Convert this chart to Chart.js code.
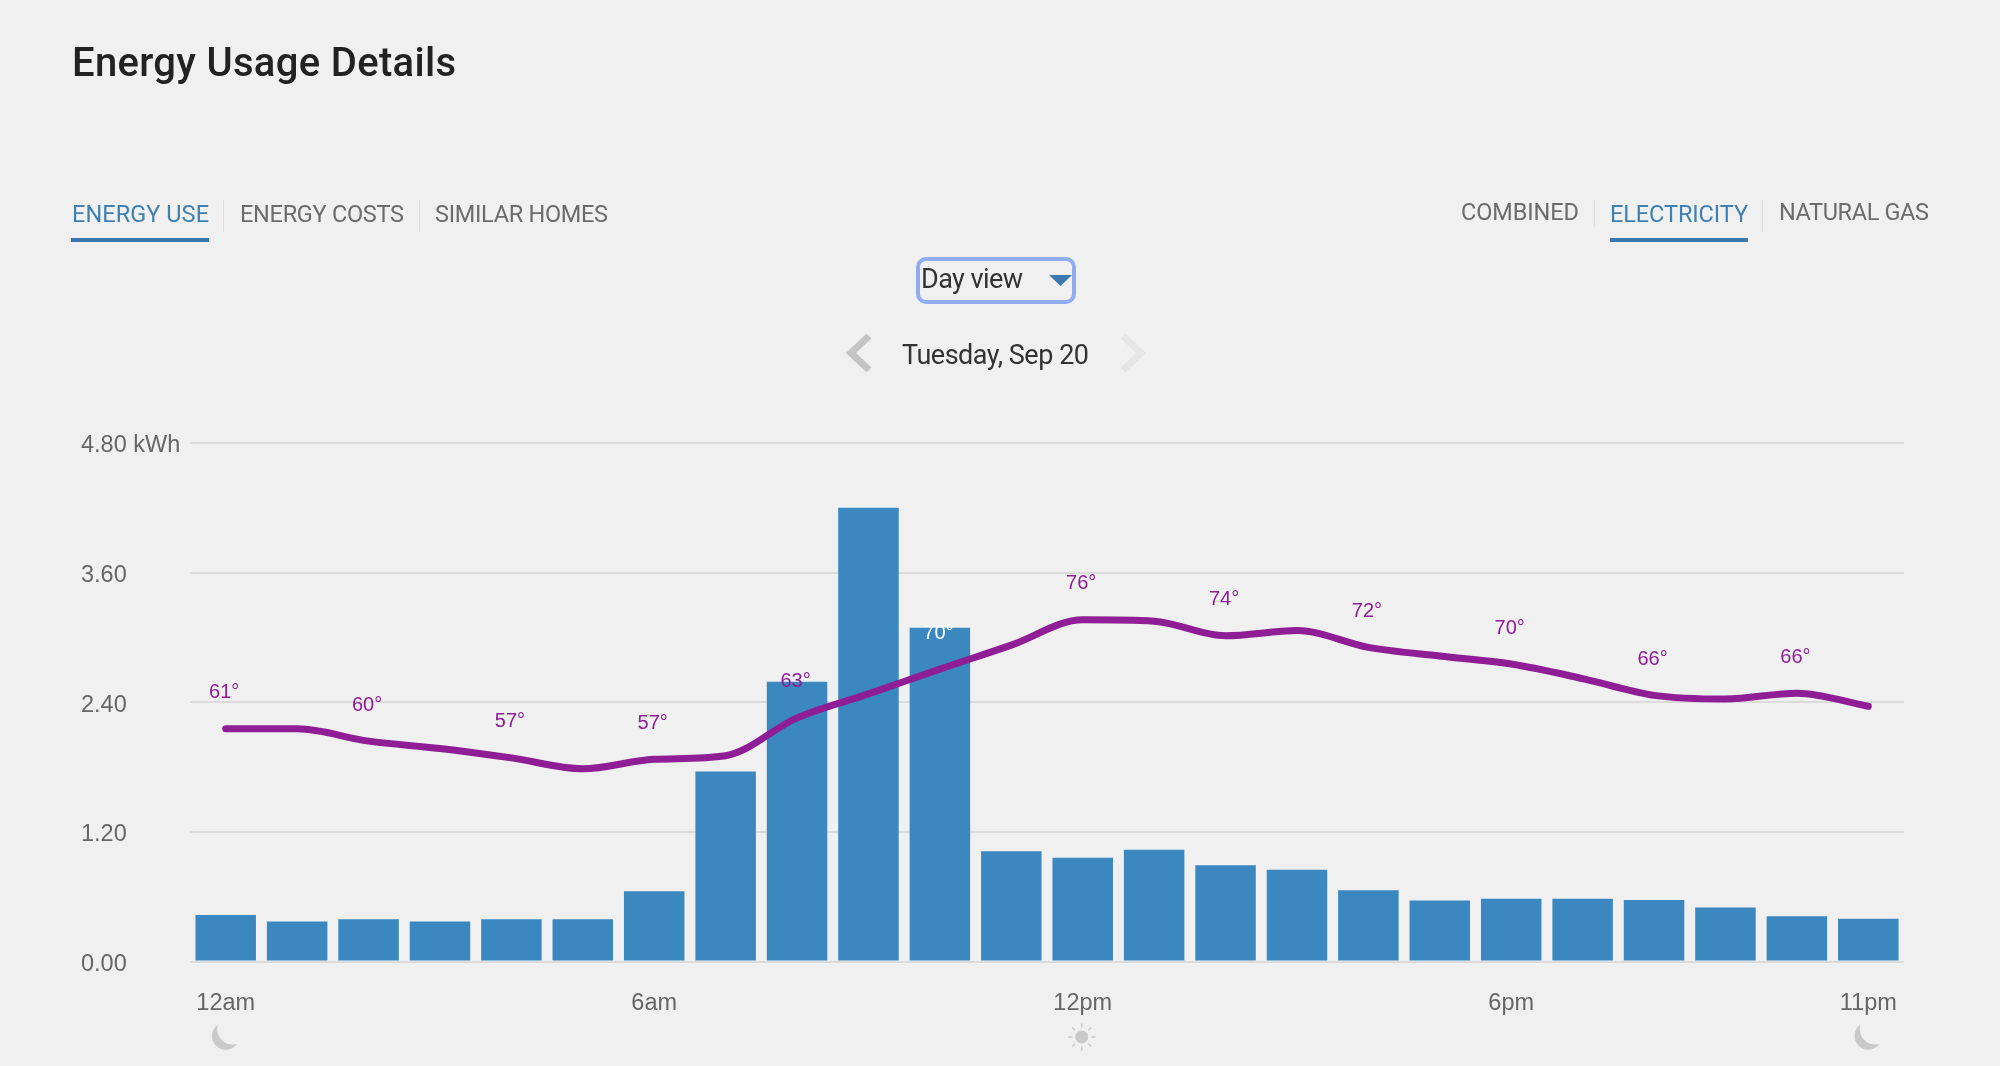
<!DOCTYPE html>
<html>
<head>
<meta charset="utf-8">
<title>Energy Usage Details</title>
<script src="https://cdn.jsdelivr.net/npm/chart.js@4"></script>
<style>
html,body{margin:0;padding:0;width:2000px;height:1066px;overflow:hidden;background:#f0f0f0;}
#c{position:absolute;left:0;top:0;}
.t{position:absolute;white-space:nowrap;line-height:1;font-family:Roboto,sans-serif;}
.tab{font-size:23.5px;color:#6b6b6b;}
.on{color:#3f80b3;}
.sep{position:absolute;width:1px;background:#dedede;}
.ul{position:absolute;height:4px;background:#3b78ad;}
#sel{position:absolute;left:916px;top:257px;width:152px;height:39px;border:4px solid #90adf0;border-radius:10px;}
</style>
</head>
<body>
<canvas id="c" width="2000" height="1066"></canvas>

<div class="t" data-w="384" style="left:72px;top:43px;font-size:40px;color:#222;font-weight:500;">Energy Usage Details</div>

<div class="t tab on" data-w="137" style="left:72px;top:203px;">ENERGY USE</div>
<div class="ul" style="left:71px;top:238px;width:138px;"></div>
<div class="sep" style="left:223px;top:200px;height:32px;"></div>
<div class="t tab" data-w="164" style="left:240px;top:203px;">ENERGY COSTS</div>
<div class="sep" style="left:419px;top:200px;height:32px;"></div>
<div class="t tab" data-w="173" style="left:435px;top:203px;">SIMILAR HOMES</div>

<div class="t tab" data-w="118" style="left:1461px;top:201px;">COMBINED</div>
<div class="sep" style="left:1594px;top:200px;height:27px;"></div>
<div class="t tab on" data-w="138" style="left:1610px;top:203px;">ELECTRICITY</div>
<div class="ul" style="left:1610px;top:238px;width:138px;"></div>
<div class="sep" style="left:1762px;top:200px;height:32px;"></div>
<div class="t tab" data-w="150" style="left:1779px;top:201px;">NATURAL GAS</div>

<div id="sel"></div>
<div class="t" data-w="102" style="left:921px;top:266px;font-size:27px;color:#333;">Day view</div>
<svg style="position:absolute;left:1045px;top:270px;" width="32" height="22"><polygon points="4,5 27,5 15.5,16" fill="#3b78ad"/></svg>

<svg style="position:absolute;left:840px;top:330px;" width="36" height="46"><polyline points="29,6 11,23 29,40" fill="none" stroke="#c4c4c4" stroke-width="7"/></svg>
<div class="t" data-w="187" style="left:902px;top:342px;font-size:27px;color:#333;">Tuesday, Sep 20</div>
<svg style="position:absolute;left:1116px;top:330px;" width="36" height="46"><polyline points="7,6 25,23 7,40" fill="none" stroke="#e6e6e6" stroke-width="7"/></svg>

<script>
const hours = ["12am","1am","2am","3am","4am","5am","6am","7am","8am","9am","10am","11am",
               "12pm","1pm","2pm","3pm","4pm","5pm","6pm","7pm","8pm","9pm","10pm","11pm"];
const shownHours = ["12am","6am","12pm","6pm","11pm"];
const usageKwh = [0.43,0.37,0.39,0.37,0.39,0.39,0.65,1.76,2.59,4.20,3.09,1.02,
                  0.96,1.035,0.89,0.85,0.66,0.565,0.58,0.58,0.57,0.50,0.42,0.395];
const temperatureF = [61.0,61.0,59.3,58.3,57.0,55.5,56.8,57.3,62.5,65.8,69.2,72.5,
                      76.0,75.8,73.8,74.5,72.2,71.0,69.9,67.9,65.6,65.1,65.9,64.1];
const tempHours = ["12am","2am","4am","6am","8am","10am","12pm","2pm","4pm","6pm","8pm","10pm"];
const tempLabels = ["61°","60°","57°","57°","63°","70°","76°","74°","72°","70°","66°","66°"];
const yTicks = [0,1.2,2.4,3.6,4.8];
const moonHours = ["12am","11pm"];
const sunHours = ["12pm"];

document.querySelectorAll('.t[data-w]').forEach(el=>{
  const w = el.getBoundingClientRect().width;
  const n = el.textContent.length;
  el.style.letterSpacing = ((+el.dataset.w - w)/(n-1)) + 'px';
});

const BG = '#f0f0f0', ICON = '#c9c9c9', PURPLE = '#8e1d96';

const overlay = {
  id:'overlay',
  afterDatasetsDraw(chart){
    const ctx = chart.ctx, x = chart.scales.x, meta = chart.getDatasetMeta(1);
    ctx.save();
    ctx.font = '20px "Liberation Sans"';
    ctx.textAlign = 'center';
    ctx.textBaseline = 'middle';
    tempHours.forEach((h,i)=>{
      const idx = hours.indexOf(h);
      const pt = meta.data[idx];
      ctx.fillStyle = h === '10am' ? '#ffffff' : PURPLE;
      ctx.fillText(tempLabels[i], pt.x-1.5, pt.y-36);
    });
    ctx.restore();
    const iy = 1036;
    ctx.save();
    moonHours.forEach(h=>{
      const cx = x.getPixelForValue(hours.indexOf(h));
      ctx.fillStyle = ICON;
      ctx.beginPath(); ctx.arc(cx,iy,13.7,0,Math.PI*2); ctx.fill();
      ctx.fillStyle = BG;
      ctx.beginPath(); ctx.arc(cx+7,iy-7,15.5,0,Math.PI*2); ctx.fill();
    });
    sunHours.forEach(h=>{
      const cx = x.getPixelForValue(hours.indexOf(h))-1;
      const sy = 1037;
      ctx.fillStyle = ICON;
      ctx.beginPath(); ctx.arc(cx,sy,6.5,0,Math.PI*2); ctx.fill();
      ctx.strokeStyle = ICON; ctx.lineWidth = 1.5;
      for(let a=0;a<8;a++){
        const r = a*Math.PI/4;
        ctx.beginPath();
        ctx.moveTo(cx+Math.cos(r)*9.5,sy+Math.sin(r)*9.5);
        ctx.lineTo(cx+Math.cos(r)*13.5,sy+Math.sin(r)*13.5);
        ctx.stroke();
      }
    });
    ctx.restore();
  }
};

new Chart(document.getElementById('c'),{
  type:'bar',
  data:{
    labels:hours,
    datasets:[
      {type:'bar',label:'Electricity (kWh)',data:usageKwh,backgroundColor:'#3b88c1',borderWidth:0,
       categoryPercentage:1,barPercentage:0.847,yAxisID:'y',order:2},
      {type:'line',label:'Temperature',data:temperatureF,borderColor:PURPLE,borderWidth:7,
       pointRadius:0,fill:false,cubicInterpolationMode:'monotone',borderCapStyle:'round',
       borderJoinStyle:'round',yAxisID:'y1',order:1}
    ]
  },
  plugins:[overlay],
  options:{
    responsive:false,
    animation:false,
    layout:{padding:{left:81,top:443,right:96,bottom:44.5}},
    plugins:{legend:{display:false},tooltip:{enabled:false},title:{display:false}},
    scales:{
      x:{
        offset:true,
        grid:{display:false},
        border:{display:false},
        afterFit(s){s.height=60;},
        ticks:{
          autoSkip:false,maxRotation:0,minRotation:0,padding:20,color:'#666',
          font:{family:'"Liberation Sans"',size:23.5},
          callback(v){const l=hours[v];return shownHours.includes(l)?l:'';}
        }
      },
      y:{
        min:0,max:4.8,
        afterFit(s){s.width=109;},
        afterBuildTicks(s){s.ticks=yTicks.map(v=>({value:v}));},
        grid:{color:'#dbdbdb',lineWidth:2,drawTicks:false},
        border:{display:false},
        ticks:{
          crossAlign:'far',padding:0,labelOffset:3,color:'#666',
          font:{family:'"Liberation Sans"',size:23.5},
          callback(v){return v===4.8?'4.80 kWh':v.toFixed(2);}
        }
      },
      y1:{display:false,min:29,max:100.3}
    }
  }
});
</script>
</body>
</html>
